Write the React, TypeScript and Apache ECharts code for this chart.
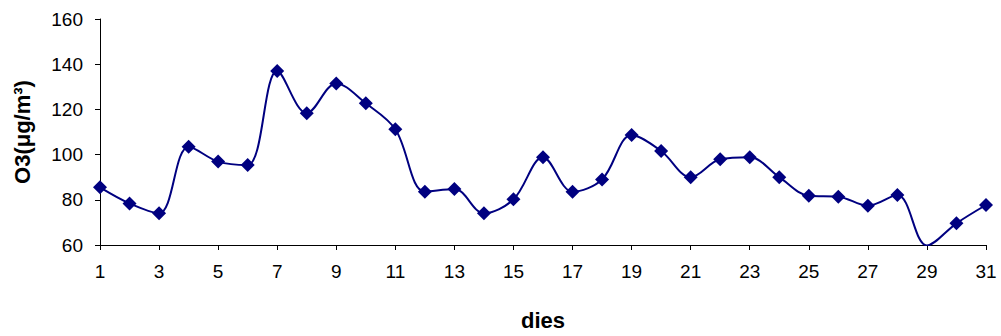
import React, { useEffect, useRef } from "react";
import * as echarts from "echarts";

const days: string[] = Array.from({ length: 31 }, (_, i) => String(i + 1));
const o3Values: number[] = [
  85.5, 78.4, 74, 103.5, 96.9, 95.4, 137, 118.3, 131.5, 122.7,
  111.2, 83.6, 84.8, 74, 80.2, 98.8, 83.6, 89, 108.7, 101.6,
  90, 97.9, 98.8, 90, 81.8, 81.4, 77.4, 82.1, 59.8, 69.6, 77.7,
];
const yTicks = { min: 60, max: 160, interval: 20 };

export default function App() {
  const ref = useRef<HTMLDivElement>(null);
  useEffect(() => {
    if (!ref.current) return;
    const chart = echarts.init(ref.current, undefined, { renderer: "svg" });
    chart.setOption({
      animation: false,
      backgroundColor: "#ffffff",
      grid: { left: 100, right: 15, top: 19, bottom: 91 },
      xAxis: {
        type: "category",
        data: days,
        boundaryGap: false,
        name: "dies",
        nameLocation: "middle",
        nameGap: 64,
        nameTextStyle: { fontFamily: "Liberation Sans", fontWeight: "bold", fontSize: 22, color: "#000" },
        axisLine: { lineStyle: { color: "#000", width: 1 } },
        axisTick: { show: true, interval: 1, length: 5, lineStyle: { color: "#000" } },
        axisLabel: { interval: 1, margin: 17, fontFamily: "Liberation Sans", fontSize: 19, color: "#000" },
        splitLine: { show: false },
      },
      yAxis: {
        type: "value",
        min: yTicks.min,
        max: yTicks.max,
        interval: yTicks.interval,
        name: "O3(μg/m³)",
        nameLocation: "middle",
        nameRotate: 90,
        nameGap: 67,
        nameTextStyle: { fontFamily: "Liberation Sans", fontWeight: "bold", fontSize: 22, color: "#000" },
        axisLine: { show: true, lineStyle: { color: "#000", width: 1 } },
        axisTick: { show: true, length: 5, lineStyle: { color: "#000" } },
        axisLabel: { margin: 17, fontFamily: "Liberation Sans", fontSize: 19, color: "#000" },
        splitLine: { show: false },
      },
      series: [
        {
          type: "line",
          data: o3Values,
          smooth: 0.35,
          symbol: "diamond",
          symbolSize: 14,
          itemStyle: { color: "#000080" },
          lineStyle: { color: "#000080", width: 2 },
        },
      ],
    });
    return () => chart.dispose();
  }, []);
  return <div ref={ref} style={{ width: 1001, height: 336, position: "absolute", left: 0, top: 0 }} />;
}
